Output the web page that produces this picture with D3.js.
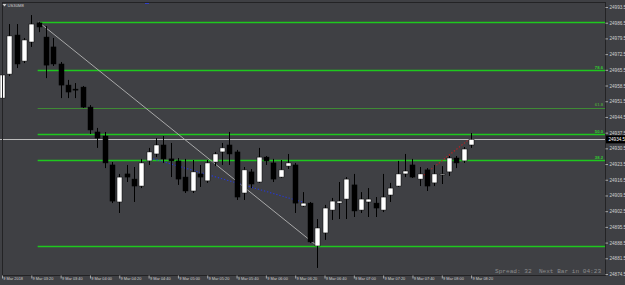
<!DOCTYPE html>
<html>
<head>
<script src="https://cdn.jsdelivr.net/npm/d3@7"></script>
<style>
  body { margin: 0; background-color: #3f4044; }
  svg { display: block; }
</style>
</head>
<body>
<svg id="canvas" width="625" height="285"></svg>
<script>
  // M5 bars, 9 Mar 2018
  const times = ['03:00','03:05','03:10','03:15','03:20','03:25','03:30','03:35','03:40','03:45','03:50','03:55',
    '04:00','04:05','04:10','04:15','04:20','04:25','04:30','04:35','04:40','04:45','04:50','04:55',
    '05:00','05:05','05:10','05:15','05:20','05:25','05:30','05:35','05:40','05:45','05:50','05:55',
    '06:00','06:05','06:10','06:15','06:20','06:25','06:30','06:35','06:40','06:45','06:50','06:55',
    '07:00','07:05','07:10','07:15','07:20','07:25','07:30','07:35','07:40','07:45','07:50','07:55',
    '08:00','08:05','08:10','08:15','08:20']
  const opens = [24952.9,24963.6,24981.0,24969.4,24977.9,24986.4,24980.1,24975.7,24968.1,24958.7,24956.9,24957.8,
    24948.9,24937.8,24936.0,24923.1,24906.6,24919.1,24916.8,24913.7,24924.9,24928.0,24932.0,24925.8,
    24924.9,24917.7,24911.5,24919.1,24916.0,24924.4,24928.9,24932.0,24928.9,24910.6,24920.0,24915.5,
    24926.6,24924.0,24917.7,24922.6,24923.1,24904.8,24906.1,24887.0,24892.8,24903.0,24906.1,24907.9,
    24914.2,24903.0,24906.6,24906.1,24903.0,24909.7,24913.7,24919.1,24923.1,24916.8,24920.9,24915.1,
    24919.1,24920.0,24926.2,24924.9,24932.0]
  const highs = [24967.6,24985.9,24985.9,24979.7,24989.9,24986.8,24985.0,24979.7,24969.0,24961.0,24959.6,24958.3,
    24949.8,24939.6,24937.8,24924.4,24919.1,24923.1,24922.2,24925.8,24930.7,24935.1,24936.0,24932.9,
    24926.2,24925.8,24925.3,24923.1,24925.3,24928.9,24932.9,24937.8,24929.8,24922.2,24921.3,24930.7,
    24927.1,24925.8,24925.3,24928.0,24924.0,24911.0,24906.6,24899.0,24905.3,24908.4,24915.5,24917.7,
    24919.1,24911.0,24912.8,24908.8,24919.1,24915.1,24924.9,24928.0,24925.8,24922.2,24921.7,24923.1,
    24922.6,24927.1,24927.1,24931.1,24937.3]
  const lows = [24946.7,24962.7,24966.3,24968.5,24975.7,24982.3,24961.8,24967.2,24952.9,24952.9,24952.9,24948.5,
    24936.9,24930.7,24921.7,24906.1,24901.7,24915.5,24906.6,24912.8,24923.1,24926.6,24924.0,24917.7,
    24914.2,24910.6,24910.6,24913.3,24915.1,24922.6,24923.1,24923.1,24907.5,24907.5,24912.8,24915.1,
    24923.1,24915.5,24917.3,24921.3,24901.7,24904.4,24888.3,24877.2,24889.7,24898.6,24899.0,24899.0,
    24899.9,24901.7,24899.9,24899.9,24902.1,24906.6,24913.3,24917.7,24917.3,24913.7,24911.5,24913.7,
    24914.6,24918.2,24921.7,24924.0,24930.7]
  const closes = [24963.2,24980.6,24968.1,24978.8,24985.9,24984.6,24967.6,24968.1,24958.7,24955.6,24956.5,24948.9,
    24938.7,24935.1,24924.0,24907.0,24917.7,24917.7,24913.7,24924.0,24928.9,24932.0,24925.8,24924.9,
    24916.8,24911.5,24920.0,24917.7,24924.0,24928.0,24930.7,24928.0,24908.8,24920.9,24914.6,24926.6,
    24924.9,24916.8,24920.9,24924.0,24906.1,24906.1,24888.8,24895.0,24903.9,24907.0,24907.0,24916.8,
    24902.6,24907.9,24907.9,24903.9,24908.8,24912.8,24919.1,24920.4,24917.7,24919.1,24913.7,24919.1,
    24919.1,24926.2,24924.0,24930.2,24934.5]

  const priceTicks = [24874.5,24881.5,24888.5,24895.5,24902.5,24909.5,24916.5,24923.5,24930.5,
    24937.5,24944.5,24951.5,24958.5,24965.5,24972.5,24979.5,24986.5,24993.5]
  const timeTicks = ['03:00','03:20','03:40','04:00','04:20','04:40','05:00','05:20','05:40',
    '06:00','06:20','06:40','07:00','07:20','07:40','08:00','08:20']
  const timeTickLabels = ['9 Mar 2018','9 Mar 03:20','9 Mar 03:40','9 Mar 04:00','9 Mar 04:20','9 Mar 04:40',
    '9 Mar 05:00','9 Mar 05:20','9 Mar 05:40','9 Mar 06:00','9 Mar 06:20','9 Mar 06:40','9 Mar 07:00',
    '9 Mar 07:20','9 Mar 07:40','9 Mar 08:00','9 Mar 08:20']

  // fibo retracement anchors
  const fibHigh = 24986.8
  const fibLow = 24887.0
  const fibStart = '03:25'
  const fibEnd = '06:35'
  const fibLevels = [0, 38.2, 50, 61.8, 78.6, 100]
  const fibLabels = ['', '38.2', '50.0', '61.8', '78.6', '']

  const blueLine = [['04:39', 24926.6], ['06:25', 24906.6]]
  const redLine = [['07:46', 24917.7], ['08:18', 24934.2]]
  const bid = 24934.5

  const parse = d3.timeParse('%H:%M')
  const svg = d3.select('#canvas')
  const W = 625, H = 285
  const plot = { left: 2, top: 2, right: 605, bottom: 275 }
  const font = 'Liberation Sans, Arial, sans-serif'

  svg.append('rect').attr('width', W).attr('height', H).attr('fill', '#3f4044')

  const x = d3.scaleTime().domain([parse('03:00'), parse('08:20')]).range([2, 471.1])
  const y = d3.scaleLinear().domain([24874.5, 24993.5]).range([274, 7])

  svg.append('clipPath').attr('id', 'clip')
    .append('rect').attr('x', 0).attr('y', plot.top).attr('width', plot.right).attr('height', plot.bottom - plot.top)

  const g = svg.append('g').attr('clip-path', 'url(#clip)')

  // fibo levels
  const fibPrice = lv => fibLow + (fibHigh - fibLow) * lv / 100
  g.selectAll('line.fib').data(fibLevels).enter().append('line')
    .attr('x1', d => d === 100 ? x(parse(fibStart)) + 1.5 : x(parse(fibStart)) - 1)
    .attr('x2', plot.right)
    .attr('y1', d => Math.round(y(fibPrice(d))) + 0.5)
    .attr('y2', d => Math.round(y(fibPrice(d))) + 0.5)
    .attr('stroke', d => d === 61.8 ? '#3f8a35' : '#1ec81e')
    .attr('stroke-width', d => d === 61.8 ? 1 : 1.4)

  g.selectAll('text.fib').data(fibLevels).enter().append('text')
    .attr('x', 603).attr('y', d => y(fibPrice(d)) - 1.4)
    .attr('text-anchor', 'end')
    .attr('font-family', font)
    .attr('font-size', 4.2).attr('font-weight', 'bold')
    .attr('fill', d => d === 61.8 ? '#4a9a3a' : '#2fd02f')
    .text((d, i) => fibLabels[i])

  // bid line
  g.append('line')
    .attr('x1', 0).attr('x2', plot.right)
    .attr('y1', Math.round(y(bid)) + 0.5).attr('y2', Math.round(y(bid)) + 0.5)
    .attr('stroke', '#bcbcbc').attr('stroke-width', 1)

  // fibo trend line
  g.append('line')
    .attr('x1', x(parse(fibStart))).attr('y1', y(fibHigh))
    .attr('x2', x(parse(fibEnd))).attr('y2', y(fibLow))
    .attr('stroke', '#b4b4b4').attr('stroke-width', 0.9)

  // dotted lines
  const dotted = (pts, color) => {
    g.append('line')
      .attr('x1', x(parse(pts[0][0]))).attr('y1', y(pts[0][1]))
      .attr('x2', x(parse(pts[1][0]))).attr('y2', y(pts[1][1]))
      .attr('stroke', color).attr('stroke-width', 1.1)
      .attr('stroke-dasharray', '1.3,1.9')
  }
  dotted(blueLine, '#2638d8')
  dotted(redLine, '#c42020')

  // candles
  const candles = times.map((t, i) => ({ t: parse(t), o: opens[i], h: highs[i], l: lows[i], c: closes[i] }))
  const bodyW = 5

  g.selectAll('line.wick').data(candles).enter().append('line')
    .attr('x1', d => Math.round(x(d.t)) + 0.5).attr('x2', d => Math.round(x(d.t)) + 0.5)
    .attr('y1', d => y(d.h)).attr('y2', d => y(d.l))
    .attr('stroke', '#000').attr('stroke-width', 1)

  g.selectAll('rect.body').data(candles).enter().append('rect')
    .attr('x', d => Math.round(x(d.t)) + 0.5 - bodyW / 2)
    .attr('y', d => y(Math.max(d.o, d.c)))
    .attr('width', bodyW)
    .attr('height', d => Math.max(1, Math.abs(y(d.o) - y(d.c))))
    .attr('fill', d => d.c >= d.o ? '#ffffff' : '#000000')
    .attr('stroke', '#000').attr('stroke-width', 0.5)

  // frame
  svg.append('rect')
    .attr('x', plot.left + 0.5).attr('y', plot.top + 0.5)
    .attr('width', plot.right - plot.left).attr('height', plot.bottom - plot.top)
    .attr('fill', 'none').attr('stroke', '#232325').attr('stroke-width', 1)

  // price axis
  const yAxis = svg.append('g').attr('transform', `translate(${plot.right + 0.5},0)`)
    .call(d3.axisRight(y).tickValues(priceTicks).tickSize(2.5).tickPadding(1.5).tickFormat(d3.format('.1f')))
  yAxis.select('.domain').remove()
  yAxis.selectAll('line').attr('stroke', '#aaaaaa')
  yAxis.selectAll('text').attr('fill', '#cfcfcf').attr('font-size', 4.6)
    .attr('font-family', font)

  // current price box
  svg.append('rect').attr('x', 606).attr('y', y(bid) - 4).attr('width', 19).attr('height', 8).attr('fill', '#000')
  svg.append('text').attr('x', 608.5).attr('y', y(bid) + 1.7)
    .attr('font-family', font).attr('font-size', 4.6)
    .attr('fill', '#ffffff').text(d3.format('.1f')(bid))

  // time axis
  const xAxis = svg.append('g').attr('transform', `translate(0,${plot.bottom + 0.5})`)
    .call(d3.axisBottom(x).tickValues(timeTicks.map(parse)).tickSize(3).tickPadding(1)
      .tickFormat((d, i) => timeTickLabels[i]))
  xAxis.select('.domain').remove()
  xAxis.selectAll('line').attr('stroke', '#aaaaaa')
  xAxis.selectAll('text').attr('fill', '#cfcfcf').attr('font-size', 3.9)
    .attr('font-family', font)
    .attr('text-anchor', 'start').attr('dx', 0.8).attr('dy', '0.2em')

  // title
  svg.append('path').attr('d', 'M2.5,4 L6.5,4 L4.5,6.5 Z').attr('fill', '#d0d0d0')
  svg.append('text').attr('x', 7.5).attr('y', 7)
    .attr('font-family', font).attr('font-size', 4.2)
    .attr('fill', '#cfcfcf').text('US30M8')
  svg.append('rect').attr('x', 145).attr('y', 3).attr('width', 4).attr('height', 1).attr('fill', '#3040c8')

  // status text
  svg.append('text').attr('x', 495).attr('y', 273)
    .attr('font-family', 'Liberation Mono, DejaVu Sans Mono, monospace').attr('font-size', 6.1)
    .attr('fill', '#8c8c8c').attr('xml:space', 'preserve')
    .style('white-space', 'pre')
    .text('Spread: 32  Next Bar in 04:23')
</script>
</body>
</html>
